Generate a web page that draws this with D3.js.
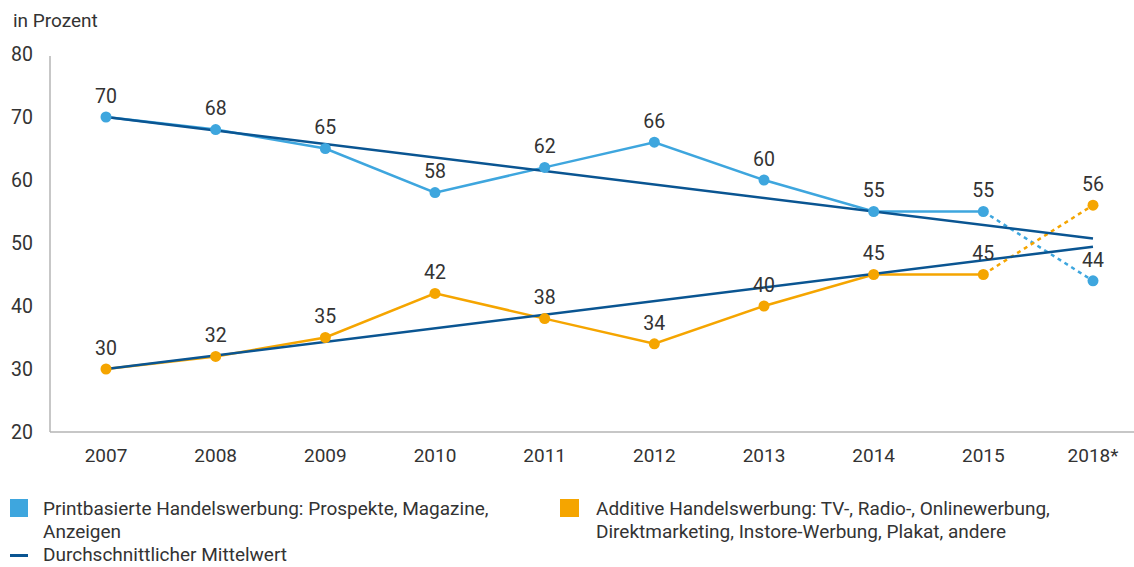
<!DOCTYPE html>
<html>
<head>
<meta charset="utf-8">
<script src="https://cdn.jsdelivr.net/npm/d3@7"></script>
<style>
  body { margin: 0; background: #fff; }
  text { font-family: Roboto, "Liberation Sans", sans-serif; fill: #333; }
</style>
</head>
<body>
<div class="container"></div>
<script>
var years = ["2007", "2008", "2009", "2010", "2011", "2012", "2013", "2014", "2015", "2018*"];
var printValues = [70, 68, 65, 58, 62, 66, 60, 55, 55, 44];
var additiveValues = [30, 32, 35, 42, 38, 34, 40, 45, 45, 56];
// Mittelwert-Trendlinien: Start- und Endwert
var printTrend = [70, 50.7];
var additiveTrend = [30, 49.4];
var yTicks = [20, 30, 40, 50, 60, 70, 80];

var lightBlue = "#3ea6de", orange = "#f5a500", darkBlue = "#0a5592";

var width = 1134, height = 567;
var margin = {top: 54, left: 50, right: 0, bottom: 135};

var svg = d3.select(".container").append("svg")
  .attr("width", width).attr("height", height);

var x = d3.scalePoint().domain(years).range([106, 1093]);
var y = d3.scaleLinear().domain([20, 80]).range([432, 54]);

// axes
svg.append("line")
  .attr("x1", margin.left).attr("x2", margin.left)
  .attr("y1", y(80) + 2).attr("y2", y(20))
  .style("stroke", "#b5b5b5").style("stroke-width", 1.5);
svg.append("line")
  .attr("x1", margin.left).attr("x2", width)
  .attr("y1", y(20)).attr("y2", y(20))
  .style("stroke", "#b5b5b5").style("stroke-width", 1.5);

svg.selectAll(".ytick")
  .data(yTicks).enter()
  .append("text")
  .attr("class", "ytick")
  .attr("x", 33)
  .attr("y", d => y(d))
  .attr("dy", "0.35em")
  .attr("text-anchor", "end")
  .style("font-size", "19.5px")
  .text(d => d);

svg.selectAll(".xtick")
  .data(years).enter()
  .append("text")
  .attr("class", "xtick")
  .attr("x", d => x(d))
  .attr("y", 455)
  .attr("dy", "0.35em")
  .attr("text-anchor", "middle")
  .style("font-size", "19px")
  .text(d => d);

svg.append("text")
  .attr("x", 13).attr("y", 20).attr("dy", "0.35em")
  .style("font-size", "19px")
  .text("in Prozent");

function drawSeries(values, color) {
  var pts = values.map((v, i) => [x(years[i]), y(v)]);
  var line = d3.line();
  svg.append("path")
    .attr("d", line(pts.slice(0, pts.length - 1)))
    .style("fill", "none").style("stroke", color).style("stroke-width", 2.5);
  svg.append("path")
    .attr("d", line(pts.slice(pts.length - 2)))
    .style("fill", "none").style("stroke", color).style("stroke-width", 2.5)
    .style("stroke-dasharray", "4,4");
  return pts;
}

var printPts = drawSeries(printValues, lightBlue);
var addPts = drawSeries(additiveValues, orange);

// trend lines
[printTrend, additiveTrend].forEach(function(t) {
  svg.append("line")
    .attr("x1", x(years[0])).attr("y1", y(t[0]))
    .attr("x2", x(years[years.length - 1])).attr("y2", y(t[1]))
    .style("stroke", darkBlue).style("stroke-width", 2.5);
});

function drawPoints(values, pts, color) {
  svg.selectAll(null)
    .data(values).enter()
    .append("circle")
    .attr("cx", (d, i) => pts[i][0])
    .attr("cy", (d, i) => pts[i][1])
    .attr("r", 5.5)
    .style("fill", color);
  svg.selectAll(null)
    .data(values).enter()
    .append("text")
    .attr("x", (d, i) => pts[i][0])
    .attr("y", (d, i) => pts[i][1] - 21)
    .attr("dy", "0.35em")
    .attr("text-anchor", "middle")
    .style("font-size", "19.5px")
    .text(d => d);
}
drawPoints(printValues, printPts, lightBlue);
drawPoints(additiveValues, addPts, orange);

// legend
var legend = svg.append("g").style("font-size", "19px");
legend.append("rect").attr("x", 10).attr("y", 499).attr("width", 18).attr("height", 18).style("fill", lightBlue);
legend.append("text").attr("x", 43).attr("y", 508).attr("dy", "0.35em").text("Printbasierte Handelswerbung: Prospekte, Magazine,");
legend.append("text").attr("x", 43).attr("y", 531).attr("dy", "0.35em").text("Anzeigen");
legend.append("rect").attr("x", 10).attr("y", 554).attr("width", 18).attr("height", 3).style("fill", darkBlue);
legend.append("text").attr("x", 43).attr("y", 554).attr("dy", "0.35em").text("Durchschnittlicher Mittelwert");
legend.append("rect").attr("x", 560).attr("y", 499).attr("width", 19).attr("height", 18).style("fill", orange);
legend.append("text").attr("x", 596).attr("y", 508).attr("dy", "0.35em").text("Additive Handelswerbung: TV-, Radio-, Onlinewerbung,");
legend.append("text").attr("x", 596).attr("y", 531).attr("dy", "0.35em").text("Direktmarketing, Instore-Werbung, Plakat, andere");
</script>
</body>
</html>
